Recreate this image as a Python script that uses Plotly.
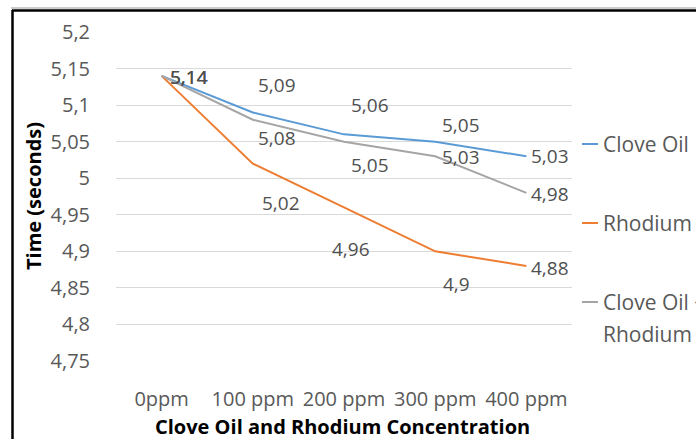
import plotly.graph_objects as go

categories = ["0ppm", "100 ppm", "200 ppm", "300 ppm", "400 ppm"]
clove_oil = [5.14, 5.09, 5.06, 5.05, 5.03]
rhodium = [5.14, 5.02, 4.96, 4.90, 4.88]
clove_rhodium = [5.14, 5.08, 5.05, 5.03, 4.98]
y_ticks = [4.75, 4.8, 4.85, 4.9, 4.95, 5.0, 5.05, 5.1, 5.15, 5.2]

series = [
    ("Clove Oil", clove_oil, "#5B9BD5"),
    ("Rhodium", rhodium, "#ED7D31"),
    ("Clove Oil + Rhodium", clove_rhodium, "#A5A5A5"),
]

# label offsets in pixels (dx right, dy down) relative to each point
label_offsets = {
    "Clove Oil": [(27, 1), (24, -27), (26, -29), (26, -17), (24, 0)],
    "Rhodium": [(27, 1), (28, 39), (7, 42), (21, 33), (24, 2)],
    "Clove Oil + Rhodium": [(27, 1), (24, 18), (26, 23), (26, 1), (24, 1)],
}

FONT = "Open Sans"
L, R, T, B = 116, 124, 32, 78
W, H = 696, 439
PW, PH = W - L - R, H - T - B


def px_x(px):
    return (px - L) / PW


def px_y(py):
    return (H - B - py) / PH


fig = go.Figure()
for name, vals, color in series:
    fig.add_trace(go.Scatter(
        x=categories, y=vals, mode="lines", name=name,
        line=dict(color=color, width=2), showlegend=False,
    ))

annotations = []
for name, vals, color in series:
    for i, (c, v) in enumerate(zip(categories, vals)):
        dx, dy = label_offsets[name][i]
        annotations.append(dict(
            x=c, y=v, xref="x", yref="y", text=f"{v:g}".replace(".", ","),
            showarrow=False, xshift=dx, yshift=-dy,
            xanchor="center", yanchor="middle",
            font=dict(family=FONT, size=19, color="#505050"),
        ))

# axis titles
annotations.append(dict(
    x=px_x(33), y=px_y(196), xref="paper", yref="paper", text="<b>Time (seconds)</b>",
    textangle=-90, showarrow=False, xanchor="center", yanchor="middle",
    font=dict(family=FONT, size=20, color="#000000"),
))
annotations.append(dict(
    x=px_x(342), y=px_y(426), xref="paper", yref="paper",
    text="<b>Clove Oil and Rhodium Concentration</b>",
    showarrow=False, xanchor="center", yanchor="middle", borderpad=0,
    font=dict(family=FONT, size=20, color="#000000"),
))

# manual legend
legend_rows = [("Clove Oil", 144, 144), ("Rhodium", 223, 223), ("Clove Oil +", 302, 302)]
shapes = []
for (label, ly, line_y), (_, _, color) in zip(legend_rows, series):
    shapes.append(dict(type="line", xref="paper", yref="paper",
                       x0=px_x(582), x1=px_x(598), y0=px_y(line_y), y1=px_y(line_y),
                       line=dict(color=color, width=2)))
    annotations.append(dict(
        x=px_x(601), y=px_y(ly), xref="paper", yref="paper", text=label,
        xanchor="left", yanchor="middle", align="left", showarrow=False,
        font=dict(family=FONT, size=21, color="#595959"),
    ))
annotations.append(dict(
    x=px_x(601), y=px_y(334), xref="paper", yref="paper", text="Rhodium",
    xanchor="left", yanchor="middle", align="left", showarrow=False,
    font=dict(family=FONT, size=21, color="#595959"),
))

# outer frame (cropped chart border)
shapes.append(dict(type="line", xref="paper", yref="paper",
                   x0=px_x(11), x1=px_x(700), y0=px_y(8), y1=px_y(8),
                   line=dict(color="#9a9a9a", width=1)))
shapes.append(dict(type="line", xref="paper", yref="paper",
                   x0=px_x(12), x1=px_x(700), y0=px_y(10.5), y1=px_y(10.5),
                   line=dict(color="#000000", width=2.5)))
shapes.append(dict(type="line", xref="paper", yref="paper",
                   x0=px_x(12.5), x1=px_x(12.5), y0=px_y(10), y1=px_y(445),
                   line=dict(color="#000000", width=2.5)))

fig.update_layout(
    width=W, height=H, margin=dict(l=L, r=R, t=T, b=B),
    paper_bgcolor="white", plot_bgcolor="white",
    separators=",.",
    annotations=annotations, shapes=shapes,
    xaxis=dict(
        type="category", range=[-0.5, 4.5], showgrid=False, zeroline=False,
        showline=False, ticks="outside", ticklen=20, tickcolor="rgba(0,0,0,0)",
        tickfont=dict(family=FONT, size=20, color="#595959"),
    ),
    yaxis=dict(
        range=[4.75, 5.2], tickvals=y_ticks, showgrid=True, gridcolor="#D9D9D9",
        gridwidth=1, zeroline=False, showline=False, ticks="outside", ticklen=21,
        tickcolor="rgba(0,0,0,0)",
        tickfont=dict(family=FONT, size=20, color="#595959"),
    ),
)

fig.write_html("out.html")
